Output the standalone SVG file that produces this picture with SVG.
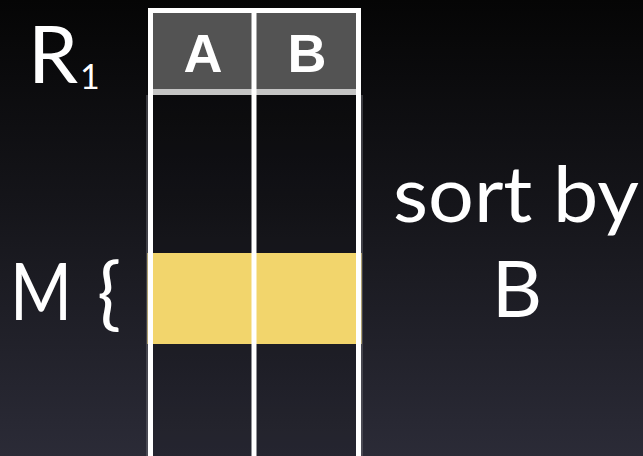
<svg xmlns="http://www.w3.org/2000/svg" width="643" height="456" viewBox="0 0 643 456">
<defs>
<linearGradient id="bg" x1="0" y1="0" x2="0" y2="1">
<stop offset="0" stop-color="#050505"/>
<stop offset="0.45" stop-color="#15151a"/>
<stop offset="1" stop-color="#2b2b37"/>
</linearGradient>
<style>
.lbl{font-family:Lato,"Open Sans","Liberation Sans",sans-serif;fill:#ffffff}
.hdr{font-family:"Liberation Sans",Arial,sans-serif;font-weight:bold;fill:#ffffff;font-size:54px;text-anchor:middle}
.wl{stroke:#ffffff;stroke-width:5;fill:none}
</style>
</defs>
<rect width="643" height="456" fill="url(#bg)"/>
<g id="table">
<rect x="150" y="10" width="209" height="80" fill="#535353"/>
<rect x="150" y="95" width="209" height="361" fill="#000000" fill-opacity="0.12"/>
<rect x="147" y="253" width="215" height="91" fill="#f2d56c"/>
<rect x="148" y="89" width="213" height="6" fill="#c4c4c4"/>
<path class="wl" d="M150.5 456 V10.5 H358.5 V456 M254 10 V456"/>
<path d="M147 95 V456 M362 95 V456" stroke="#6a6a72" stroke-width="1"/>
</g>
<g id="header-A"><text class="hdr" x="203" y="72">A</text></g>
<g id="header-B"><text class="hdr" x="307" y="72">B</text></g>
<g id="label-R1"><text class="lbl" x="28" y="83" font-size="80">R<tspan font-size="34" x="80" y="89">1</tspan></text></g>
<g id="label-M"><text class="lbl" x="10" y="320" font-size="80" textLength="62" lengthAdjust="spacingAndGlyphs">M</text><text class="lbl" x="97" y="320" font-size="80">{</text></g>
<g id="label-sort"><text class="lbl" x="393" y="222" font-size="78" textLength="246" lengthAdjust="spacingAndGlyphs">sort by</text><text class="lbl" x="517" y="317" font-size="78" text-anchor="middle">B</text></g>
<g id="connectors"/>
</svg>
